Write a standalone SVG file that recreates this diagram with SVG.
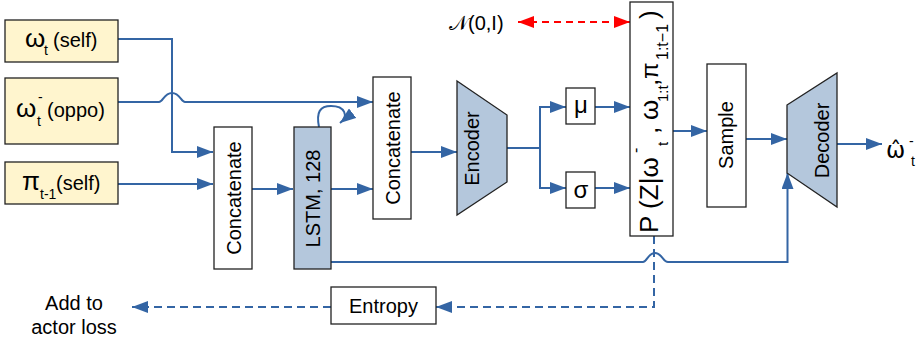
<svg xmlns="http://www.w3.org/2000/svg" width="921" height="342" viewBox="0 0 921 342">
<style>
text{font-family:"Liberation Sans","DejaVu Sans",Arial,sans-serif;font-size:20px;fill:#000}
.box{fill:#fff;stroke:#222;stroke-width:1.3}
.in{fill:#fff5ce;stroke:#222;stroke-width:1.3}
.nn{fill:#b4c7dc;stroke:#222;stroke-width:1.3}
.ln{fill:none;stroke:#3465a4;stroke-width:2}
.dl{fill:none;stroke:#3465a4;stroke-width:2;stroke-dasharray:8 5}
.rd{fill:none;stroke:#ff0000;stroke-width:2;stroke-dasharray:7 5}
.sub{font-size:14px}
.gr{font-size:26px}
.mid{text-anchor:middle}
</style>
<defs>
<marker id="a" viewBox="0 0 16 12" refX="16" refY="6" markerWidth="16" markerHeight="12" markerUnits="userSpaceOnUse" orient="auto"><path d="M0,0 L16,6 L0,12 z" fill="#3465a4"/></marker>
<marker id="r" viewBox="0 0 16 12" refX="16" refY="6" markerWidth="16" markerHeight="12" markerUnits="userSpaceOnUse" orient="auto-start-reverse"><path d="M0,0 L16,6 L0,12 z" fill="#ff0000"/></marker>
</defs>

<g id="connectors">
<path class="ln" d="M118,39 H172 V152 H213" marker-end="url(#a)"/>
<path class="ln" d="M118,102 H159 C163,102 164,93 172,93 C180,93 181,102 185,102 H373" marker-end="url(#a)"/>
<path class="ln" d="M118,184 H213" marker-end="url(#a)"/>
<path class="ln" d="M252,189 H293" marker-end="url(#a)"/>
<path class="ln" d="M331,189 H373" marker-end="url(#a)"/>
<path class="ln" d="M319,127 C316,112 320,106 331,106 C345,106 349,116 340,123" marker-end="url(#a)"/>
<path class="ln" d="M411,152 H457" marker-end="url(#a)"/>
<path class="ln" d="M507,148 H540 V107 H566" marker-end="url(#a)"/>
<path class="ln" d="M540,148 V188 H566" marker-end="url(#a)"/>
<path class="ln" d="M595,107 H630" marker-end="url(#a)"/>
<path class="ln" d="M595,188 H630" marker-end="url(#a)"/>
<path class="ln" d="M673,131 H707" marker-end="url(#a)"/>
<path class="ln" d="M746,139 H787" marker-end="url(#a)"/>
<path class="ln" d="M837,144 H882" marker-end="url(#a)"/>
<path class="ln" d="M331,262 H643 C647,262 648,253 655,253 C662,253 663,262 668,262 H787.5 V173" marker-end="url(#a)"/>
<path class="rd" d="M518,22 H630" marker-start="url(#r)" marker-end="url(#r)"/>
<path class="dl" d="M654,236 V307 H436" marker-end="url(#a)"/>
<path class="dl" d="M331,307 H132" marker-end="url(#a)"/>
</g>

<g id="in-self">
<rect class="in" x="5" y="20" width="113" height="42"/>
<text class="gr" x="25" y="47">ω</text><text class="sub" x="44" y="55">t</text><text x="53" y="47">(self)</text>
</g>
<g id="in-oppo">
<rect class="in" x="5" y="78" width="113" height="66"/>
<text class="gr" x="16" y="117">ω</text><text class="sub" x="38" y="102">-</text><text class="sub" x="37" y="126">t</text><text x="47" y="117">(oppo)</text>
</g>
<g id="in-pi">
<rect class="in" x="5" y="162" width="113" height="42"/>
<text class="gr" x="22" y="190">π</text><text class="sub" x="40" y="199">t-1</text><text x="56" y="190">(self)</text>
</g>
<g id="concat1">
<rect class="box" x="214" y="127" width="38" height="142"/>
<text class="mid" transform="translate(241,198) rotate(-90)">Concatenate</text>
</g>
<g id="lstm">
<rect class="nn" x="294" y="127" width="37" height="142"/>
<text class="mid" transform="translate(320,198.5) rotate(-90)">LSTM, 128</text>
</g>
<g id="concat2">
<rect class="box" x="373" y="77" width="38" height="142"/>
<text class="mid" transform="translate(400,148) rotate(-90)">Concatenate</text>
</g>
<g id="encoder">
<polygon class="nn" points="457,81 507,115 507,182 457,215"/>
<text class="mid" transform="translate(479,148.5) rotate(-90)">Encoder</text>
</g>
<g id="mu">
<rect class="box" x="566" y="88" width="29" height="36"/>
<text class="mid" x="581" y="113" style="font-size:24px">μ</text>
</g>
<g id="sigma">
<rect class="box" x="566" y="172" width="29" height="36"/>
<text class="mid" x="581" y="198" style="font-size:24px">σ</text>
</g>
<g id="normal">
<text x="449" y="30">𝒩(0,I)</text>
</g>
<g id="posterior">
<rect class="box" x="630" y="2" width="43" height="234"/>
<g transform="translate(658,233) rotate(-90)">
<text style="font-size:26px" x="0" y="0">P (Z|ω</text>
<text style="font-size:16px" x="80" y="-17">-</text>
<text style="font-size:15px" x="87" y="10">t</text>
<text style="font-size:26px" x="99" y="0">,</text>
<text style="font-size:26px" x="113" y="0">ω</text>
<text style="font-size:15px" x="131" y="10">1:t</text>
<text style="font-size:26px" x="147" y="0">,</text>
<text style="font-size:24px" x="154" y="0">π</text>
<text style="font-size:16px" x="173" y="10">1:t−1</text>
<text style="font-size:26px" x="214" y="0">)</text>
</g>
</g>
<g id="sample">
<rect class="box" x="707" y="64" width="39" height="143"/>
<text class="mid" transform="translate(733,135) rotate(-90)">Sample</text>
</g>
<g id="decoder">
<polygon class="nn" points="787,105 837,73 837,207 787,173"/>
<text class="mid" transform="translate(829,140.5) rotate(-90)">Decoder</text>
</g>
<g id="output">
<text x="886" y="158" style="font-family:'DejaVu Sans',sans-serif;font-size:23px">ω̂</text><text class="sub" x="909" y="146">-</text><text class="sub" x="911" y="166">t</text>
</g>
<g id="entropy">
<rect class="box" x="331" y="287" width="105" height="37"/>
<text class="mid" x="383.5" y="313">Entropy</text>
</g>
<g id="loss">
<text class="mid" x="74" y="310">Add to</text>
<text class="mid" x="74" y="334">actor loss</text>
</g>
</svg>
